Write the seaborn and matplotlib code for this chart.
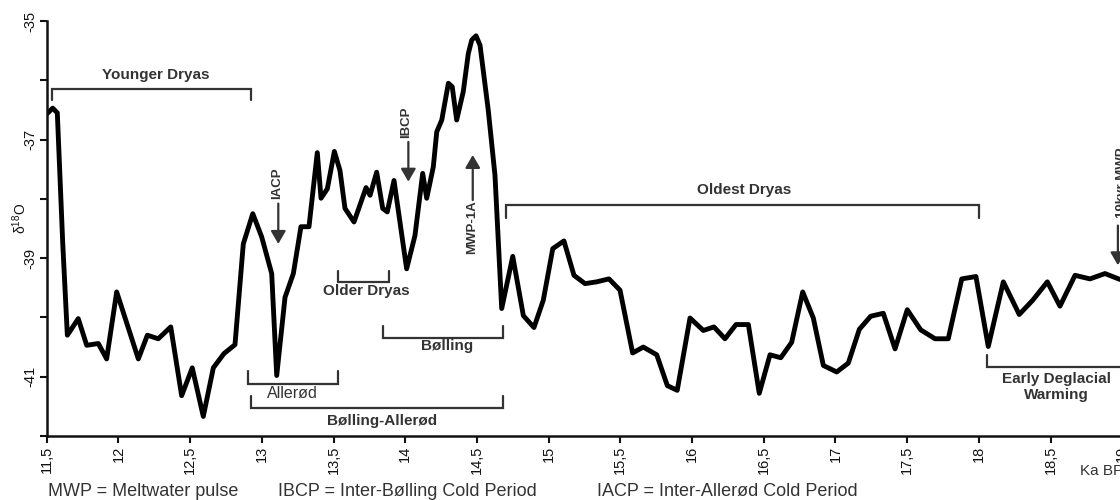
import matplotlib
matplotlib.use("Agg")
import matplotlib.pyplot as plt
import seaborn as sns

# ---------------- data ----------------
age_ka = [11.504, 11.542, 11.574, 11.612, 11.644, 11.720, 11.779, 11.860, 11.918, 11.988,
          12.139, 12.202, 12.278, 12.365, 12.441, 12.515, 12.592, 12.662, 12.736, 12.813,
          12.871, 12.937, 12.999, 13.069, 13.104, 13.162, 13.220, 13.273, 13.329, 13.387,
          13.413, 13.457, 13.506, 13.545, 13.580, 13.643, 13.727, 13.755, 13.801, 13.843,
          13.875, 13.922, 14.010, 14.068, 14.122, 14.150, 14.196, 14.220, 14.255, 14.301,
          14.328, 14.359, 14.405, 14.440, 14.464, 14.494, 14.522, 14.579, 14.626, 14.673,
          14.750, 14.824, 14.898, 14.963, 15.029, 15.107, 15.177, 15.254, 15.335, 15.421,
          15.498, 15.586, 15.660, 15.754, 15.828, 15.897, 15.986, 16.079, 16.153, 16.230,
          16.307, 16.393, 16.469, 16.544, 16.619, 16.695, 16.772, 16.846, 16.916, 17.009,
          17.090, 17.167, 17.246, 17.334, 17.416, 17.501, 17.595, 17.695, 17.787, 17.881,
          17.980, 18.066, 18.171, 18.282, 18.376, 18.478, 18.566, 18.671, 18.775, 18.880,
          18.985]

d18o = [-36.56, -36.47, -36.55, -38.76, -40.30, -40.02, -40.47, -40.44, -40.70, -39.57,
        -40.70, -40.30, -40.36, -40.16, -41.32, -40.85, -41.67, -40.85, -40.61, -40.46,
        -38.76, -38.25, -38.64, -39.26, -40.98, -39.66, -39.26, -38.47, -38.47, -37.22,
        -37.99, -37.83, -37.20, -37.52, -38.16, -38.39, -37.81, -37.94, -37.55, -38.16,
        -38.22, -37.69, -39.18, -38.62, -37.57, -37.99, -37.46, -36.87, -36.67, -36.05,
        -36.11, -36.67, -36.19, -35.55, -35.32, -35.25, -35.41, -36.50, -37.60, -39.85,
        -38.97, -39.97, -40.17, -39.71, -38.84, -38.71, -39.29, -39.43, -39.40, -39.35,
        -39.54, -40.60, -40.50, -40.63, -41.15, -41.23, -40.01, -40.22, -40.16, -40.36,
        -40.12, -40.12, -41.28, -40.63, -40.68, -40.42, -39.57, -40.01, -40.81, -40.92,
        -40.77, -40.20, -39.98, -39.93, -40.53, -39.87, -40.21, -40.36, -40.36, -39.35,
        -39.31, -40.49, -39.40, -39.95, -39.71, -39.40, -39.81, -39.29, -39.35, -39.26,
        -39.36]

x_ticks = [11.5, 12, 12.5, 13, 13.5, 14, 14.5, 15, 15.5, 16, 16.5, 17, 17.5, 18, 18.5, 19]
x_tick_labels = ["11,5", "12", "12,5", "13", "13,5", "14", "14,5", "15", "15,5", "16",
                 "16,5", "17", "17,5", "18", "18,5", "19"]
y_major = [-35, -37, -39, -41]
y_major_labels = ["-35", "-37", "-39", "-41"]
y_minor = [-36, -38, -40, -42]

# periods: (name, start ka, end ka)
period_names = ["Younger Dryas", "Older Dryas", "Bølling", "Allerød",
                "Bølling-Allerød", "Oldest Dryas", "Early Deglacial\nWarming"]
period_start = [11.539, 13.533, 13.847, 12.906, 12.925, 14.703, 18.055]
period_end = [12.925, 13.889, 14.680, 13.529, 14.684, 18.003, 19.6]

# event arrows: (label, age)
event_names = ["IACP", "IBCP", "MWP-1A", "19kyr MWP"]
event_ages = [13.115, 14.022, 14.471, 18.97]

footnotes = ["MWP = Meltwater pulse", "IBCP = Inter-Bølling Cold Period",
             "IACP = Inter-Allerød Cold Period"]

# ---------------- style ----------------
sns.set_style("ticks")
plt.rcParams["font.family"] = ["Liberation Sans", "DejaVu Sans"]
plt.rcParams["mathtext.fontset"] = "custom"
plt.rcParams["mathtext.rm"] = "Liberation Sans"
plt.rcParams["mathtext.it"] = "Liberation Sans:italic"

INK = "#111111"
BR = "#333333"

fig = plt.figure(figsize=(11.2, 5.0), dpi=100)
ax = fig.add_axes([46.7 / 1120, 1 - 436 / 500, 8.1 * 143.4 / 1120, 415 / 500])

sns.lineplot(x=age_ka, y=d18o, ax=ax, color="black", lw=3.5, sort=False,
             estimator=None, legend=False)

ax.set_xlim(11.5, 19.6)
ax.set_ylim(-42, -35)
ax.set_xlabel("")
ax.set_ylabel("")
for s in ("top", "right"):
    ax.spines[s].set_visible(False)
for s in ("left", "bottom"):
    ax.spines[s].set_linewidth(1.8)
    ax.spines[s].set_color(INK)

ax.set_xticks(x_ticks)
ax.set_xticklabels(x_tick_labels, rotation=90, fontsize=10.5, color=INK)
ax.set_yticks(y_major)
ax.set_yticklabels(y_major_labels, rotation=90, va="center", fontsize=10.5, color=INK)
ax.set_yticks(y_minor, minor=True)
ax.tick_params(axis="both", which="both", length=5, width=1.5, color=INK, pad=2)

# ---------------- brackets ----------------
def bracket(x0, x1, y, ytick):
    ax.plot([x0, x0, x1, x1], [ytick, y, y, ytick], color=BR, lw=1.6,
            solid_joinstyle="miter", clip_on=False)

# y-levels of bracket bars / tick ends and label positions
br_y = [(-36.14, -36.33), (-39.40, -39.22), (-40.34, -40.14), (-41.13, -40.91),
        (-41.53, -41.33), (-38.11, -38.33), (-40.83, -40.63)]
lab_pos = [(12.261, -35.91), (13.731, -39.56), (14.294, -40.49), (13.213, -41.28),
           (13.837, -41.74), (16.364, -37.85), (18.539, -41.17)]
lab_bold = [True, True, True, False, True, True, True]
for name, x0, x1, (yb, yt), (lx, ly), bold in zip(period_names, period_start, period_end,
                                                   br_y, lab_pos, lab_bold):
    bracket(x0, x1, yb, yt)
    ax.text(lx, ly, name, ha="center", va="center", fontsize=11 if bold else 11.5,
            fontweight="bold" if bold else "normal", color=BR, linespacing=1.15,
            clip_on=False)

# ---------------- event arrows ----------------
arr_y = [(-38.08, -38.76), (-37.04, -37.71), (-38.02, -37.26), (-38.45, -39.12)]
txt_pos = [(13.104, -37.74), (14.006, -36.71), (14.464, -38.47), (19.0, -37.72)]
for name, xa, (ytail, ytip), (tx, ty) in zip(event_names, event_ages, arr_y, txt_pos):
    ax.annotate("", xy=(xa, ytip), xytext=(xa, ytail),
                arrowprops=dict(arrowstyle="-|>,head_length=0.55,head_width=0.32",
                                color=BR, lw=1.6, mutation_scale=14,
                                shrinkA=0, shrinkB=0), annotation_clip=False)
    ax.text(tx, ty, name, rotation=90, ha="center", va="center", fontsize=9.5,
            fontweight="bold", color=BR, clip_on=False)

# ---------------- labels & footnotes ----------------
fig.text(20 / 1120, 1 - 218 / 500, r"δ$^{18}$O", rotation=90, ha="center",
         va="center", fontsize=10, color=INK)
fig.text(1080 / 1120, 1 - 471 / 500, "Ka BP", ha="left", va="center",
         fontsize=11, color=BR)
foot_x = [47.7, 278, 596.7]
for fx, txt in zip(foot_x, footnotes):
    fig.text(fx / 1120, 1 - 491 / 500, txt, ha="left", va="center",
             fontsize=13, color=BR)

fig.savefig("out.png", dpi=100, facecolor="white")
